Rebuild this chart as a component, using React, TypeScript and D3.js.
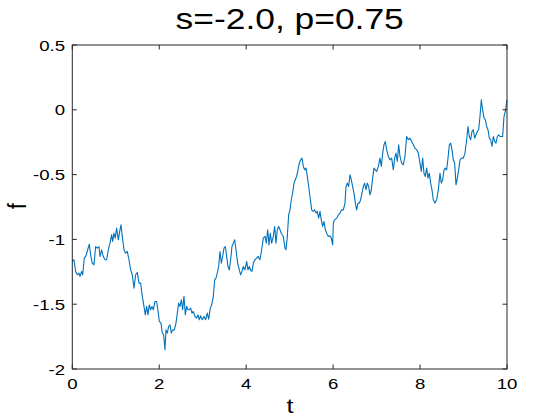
import React from "react";
import * as d3 from "d3";

const titleText = "s=-2.0, p=0.75";
const xLabel = "t";
const yLabel = "f";
const xTicks = [0, 2, 4, 6, 8, 10];
const yTicks = [0.5, 0, -0.5, -1, -1.5, -2];
const yTickLabels = ["0.5", "0", "-0.5", "-1", "-1.5", "-2"];

const tValues = [
  0, 0.038, 0.077, 0.115, 0.153, 0.176, 0.215, 0.238, 0.276, 0.314, 0.353, 0.391, 0.422, 0.46, 0.498, 0.537, 0.575, 0.613, 0.637, 0.675,
  0.713, 0.752, 0.79, 0.828, 0.867, 0.905, 0.928, 0.959, 0.989, 1.02, 1.058, 1.097, 1.12, 1.15, 1.189, 1.227, 1.265, 1.304, 1.342, 1.38,
  1.419, 1.457, 1.495, 1.534, 1.572, 1.61, 1.649, 1.679, 1.71, 1.741, 1.771, 1.802, 1.833, 1.864, 1.902, 1.94, 1.979, 2.002, 2.04, 2.071,
  2.101, 2.132, 2.155, 2.186, 2.216, 2.247, 2.278, 2.308, 2.347, 2.385, 2.416, 2.446, 2.477, 2.508, 2.538, 2.569, 2.6, 2.63, 2.661, 2.692,
  2.722, 2.753, 2.784, 2.822, 2.86, 2.891, 2.922, 2.952, 2.991, 3.029, 3.067, 3.106, 3.137, 3.175, 3.206, 3.244, 3.275, 3.305, 3.336, 3.367,
  3.397, 3.428, 3.459, 3.489, 3.52, 3.551, 3.581, 3.612, 3.643, 3.673, 3.704, 3.735, 3.765, 3.804, 3.842, 3.873, 3.903, 3.934, 3.972, 4.011,
  4.041, 4.072, 4.103, 4.133, 4.164, 4.202, 4.241, 4.279, 4.317, 4.356, 4.394, 4.433, 4.463, 4.494, 4.525, 4.555, 4.586, 4.624, 4.655, 4.686,
  4.716, 4.747, 4.778, 4.808, 4.854, 4.893, 4.916, 4.946, 4.977, 5.008, 5.038, 5.069, 5.1, 5.13, 5.161, 5.192, 5.222, 5.253, 5.284, 5.314,
  5.345, 5.376, 5.406, 5.437, 5.468, 5.506, 5.544, 5.575, 5.606, 5.636, 5.667, 5.698, 5.728, 5.759, 5.79, 5.821, 5.851, 5.89, 5.928, 5.959,
  5.989, 6.005, 6.035, 6.081, 6.12, 6.158, 6.196, 6.235, 6.273, 6.296, 6.327, 6.357, 6.388, 6.419, 6.449, 6.48, 6.511, 6.541, 6.572, 6.603,
  6.633, 6.664, 6.695, 6.725, 6.756, 6.787, 6.817, 6.848, 6.879, 6.909, 6.94, 6.971, 7.001, 7.04, 7.078, 7.109, 7.14, 7.17, 7.201, 7.232,
  7.27, 7.308, 7.347, 7.385, 7.416, 7.446, 7.477, 7.508, 7.538, 7.577, 7.615, 7.653, 7.692, 7.73, 7.768, 7.807, 7.845, 7.883, 7.922, 7.96,
  7.998, 8.029, 8.06, 8.09, 8.121, 8.152, 8.182, 8.213, 8.244, 8.274, 8.305, 8.344, 8.382, 8.42, 8.459, 8.489, 8.52, 8.551, 8.581, 8.612,
  8.643, 8.673, 8.704, 8.735, 8.765, 8.796, 8.827, 8.857, 8.888, 8.919, 8.957, 8.995, 9.034, 9.072, 9.103, 9.133, 9.164, 9.195, 9.225, 9.256,
  9.287, 9.317, 9.348, 9.379, 9.409, 9.44, 9.471, 9.502, 9.532, 9.563, 9.594, 9.624, 9.655, 9.686, 9.716, 9.747, 9.778, 9.808, 9.839, 9.87,
  9.9, 9.931, 9.962, 10.0,
];

const fValues = [
  -1.17, -1.157, -1.247, -1.273, -1.26, -1.286, -1.247, -1.273, -1.145, -1.127, -1.08, -1.037, -1.119, -1.183, -1.196, -1.055, -1.067, -1.055, -1.132, -1.08,
  -1.132, -1.157, -1.157, -1.08, -1.029, -0.965, -1.016, -0.952, -0.99, -0.913, -1.003, -0.926, -0.887, -0.977, -1.08, -1.106, -1.093, -1.157, -1.235, -1.273,
  -1.376, -1.273, -1.255, -1.337, -1.337, -1.44, -1.517, -1.582, -1.517, -1.582, -1.505, -1.543, -1.517, -1.543, -1.479, -1.479, -1.569, -1.633, -1.646, -1.723,
  -1.736, -1.852, -1.698, -1.723, -1.672, -1.659, -1.723, -1.698, -1.698, -1.646, -1.569, -1.492, -1.517, -1.466, -1.543, -1.44, -1.582, -1.517, -1.543, -1.543,
  -1.53, -1.569, -1.556, -1.595, -1.607, -1.582, -1.62, -1.59, -1.62, -1.595, -1.62, -1.569, -1.615, -1.53, -1.505, -1.44, -1.312, -1.299, -1.26, -1.209,
  -1.093, -1.183, -1.132, -1.067, -1.055, -1.132, -1.209, -1.235, -1.157, -1.055, -1.029, -1.003, -1.08, -1.183, -1.235, -1.273, -1.247, -1.209, -1.235, -1.17,
  -1.235, -1.209, -1.24, -1.247, -1.183, -1.157, -1.145, -1.132, -1.157, -1.08, -0.99, -0.977, -1.029, -0.926, -1.042, -0.952, -1.029, -0.977, -0.9, -1.029,
  -0.926, -0.9, -0.926, -0.952, -0.977, -1.067, -1.08, -0.977, -0.81, -0.772, -0.694, -0.643, -0.566, -0.54, -0.514, -0.463, -0.412, -0.386, -0.373, -0.437,
  -0.463, -0.45, -0.514, -0.592, -0.669, -0.772, -0.784, -0.772, -0.797, -0.784, -0.836, -0.784, -0.849, -0.9, -0.862, -0.926, -0.952, -0.977, -0.972, -0.99,
  -1.042, -0.874, -0.849, -0.836, -0.81, -0.797, -0.772, -0.772, -0.72, -0.592, -0.566, -0.592, -0.502, -0.54, -0.592, -0.643, -0.72, -0.772, -0.72, -0.72,
  -0.694, -0.643, -0.592, -0.566, -0.617, -0.566, -0.592, -0.656, -0.617, -0.527, -0.45, -0.463, -0.476, -0.437, -0.373, -0.437, -0.334, -0.27, -0.244, -0.309,
  -0.36, -0.386, -0.373, -0.463, -0.373, -0.334, -0.399, -0.27, -0.36, -0.412, -0.424, -0.36, -0.206, -0.231, -0.219, -0.244, -0.27, -0.296, -0.309, -0.334,
  -0.412, -0.476, -0.373, -0.489, -0.514, -0.45, -0.527, -0.489, -0.566, -0.617, -0.694, -0.72, -0.694, -0.617, -0.489, -0.566, -0.54, -0.463, -0.45, -0.463,
  -0.373, -0.27, -0.257, -0.309, -0.386, -0.412, -0.579, -0.527, -0.463, -0.386, -0.373, -0.373, -0.334, -0.231, -0.129, -0.206, -0.231, -0.167, -0.154, -0.219,
  -0.193, -0.167, -0.154, -0.051, 0.077, 0.0, -0.064, -0.077, -0.129, -0.154, -0.219, -0.231, -0.283, -0.206, -0.244, -0.257, -0.206, -0.193, -0.206, -0.206,
  -0.206, -0.051, -0.013, 0.077,
];

const W = 560;
const H = 420;
const left = 72.3;
const right = 507;
const top = 45;
const bottom = 369;
const SX = 1.2;
const FONT = "'Liberation Sans', Arial, Helvetica, sans-serif";
const AX = "#262626";

export default function App() {
  const x = d3.scaleLinear().domain([0, 10]).range([left, right]);
  const y = d3.scaleLinear().domain([-2, 0.5]).range([bottom, top]);
  const data = tValues.map((t, i) => [t, fValues[i]] as [number, number]);
  const line = d3
    .line<[number, number]>()
    .x((d) => x(d[0]))
    .y((d) => y(d[1]));
  const tl = 4.5;

  return (
    <svg width={W} height={H} style={{ position: "absolute", left: 0, top: 0, background: "#fff" }}>
      <rect x={0} y={0} width={W} height={H} fill="#fff" />
      <path d={line(data) || ""} fill="none" stroke="#0072BD" strokeWidth={1.1} strokeLinejoin="round" />
      <rect x={left} y={top} width={right - left} height={bottom - top} fill="none" stroke={AX} strokeWidth={1} />
      {xTicks.map((v) => (
        <g key={"xt" + v}>
          <line x1={x(v)} x2={x(v)} y1={bottom} y2={bottom - tl} stroke={AX} />
          <line x1={x(v)} x2={x(v)} y1={top} y2={top + tl} stroke={AX} />
          <text
            transform={`translate(${x(v)},${389}) scale(${SX},1)`}
            textAnchor="middle"
            fontFamily={FONT}
            fontSize={15.5}
            fill="#000"
          >
            {String(v)}
          </text>
        </g>
      ))}
      {yTicks.map((v, i) => (
        <g key={"yt" + v}>
          <line x1={left} x2={left + tl} y1={y(v)} y2={y(v)} stroke={AX} />
          <line x1={right} x2={right - tl} y1={y(v)} y2={y(v)} stroke={AX} />
          <text
            transform={`translate(${65},${y(v) + 5.5}) scale(${SX},1)`}
            textAnchor="end"
            fontFamily={FONT}
            fontSize={15.5}
            fill="#000"
          >
            {yTickLabels[i]}
          </text>
        </g>
      ))}
      <text
        transform={`translate(${(left + right) / 2},${29}) scale(1.18,1)`}
        textAnchor="middle"
        fontFamily={FONT}
        fontSize={30}
        fill="#000"
      >
        {titleText}
      </text>
      <text
        transform={`translate(${290},${413}) scale(${SX},1)`}
        textAnchor="middle"
        fontFamily={FONT}
        fontSize={21}
        fill="#000"
      >
        {xLabel}
      </text>
      <text
        transform={`translate(${26},${206}) rotate(-90) scale(1,${SX})`}
        textAnchor="middle"
        fontFamily={FONT}
        fontSize={21}
        fill="#000"
      >
        {yLabel}
      </text>
    </svg>
  );
}
